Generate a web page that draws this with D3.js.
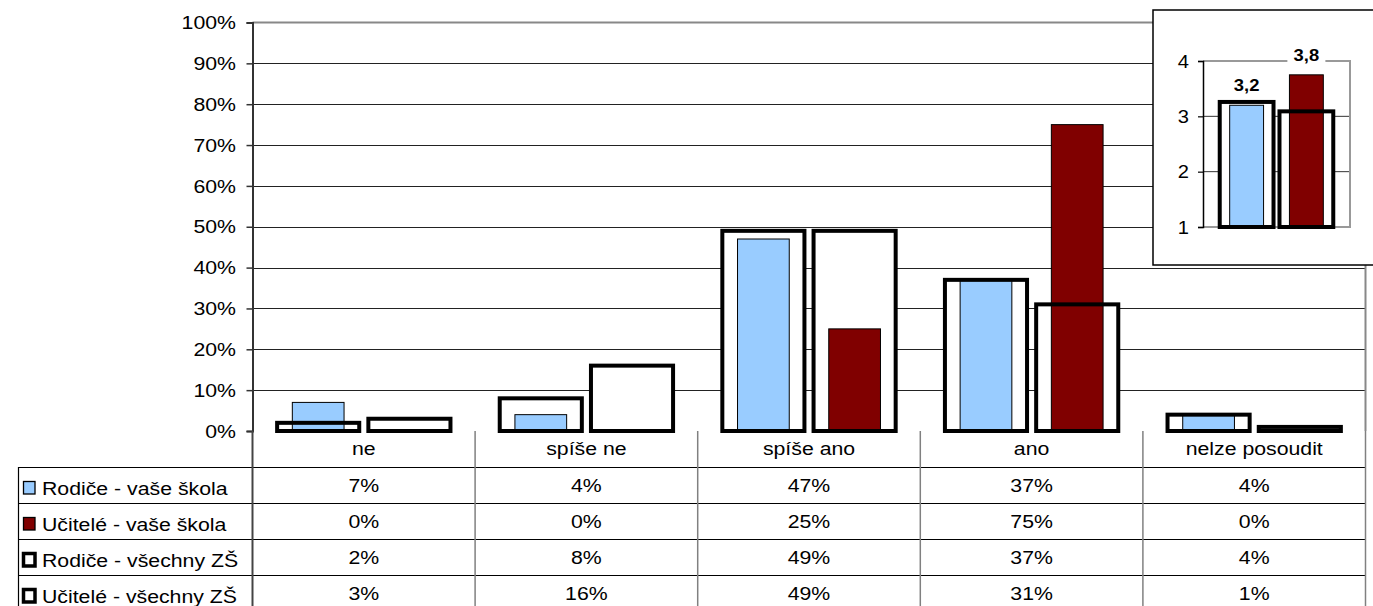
<!DOCTYPE html>
<html>
<head>
<meta charset="utf-8">
<script src="https://cdn.jsdelivr.net/npm/d3@7/dist/d3.min.js"></script>
<style>
  html, body { margin: 0; padding: 0; background: #fff; }
  svg { display: block; }
  text { font-family: "Liberation Sans", Arial, sans-serif; fill: #000; }
</style>
</head>
<body>
<svg id="chart" width="1373" height="606"></svg>
<script>
// ---- data ----
const categories = ["ne", "spíše ne", "spíše ano", "ano", "nelze posoudit"];
const seriesNames = ["Rodiče - vaše škola", "Učitelé - vaše škola", "Rodiče - všechny ZŠ", "Učitelé - všechny ZŠ"];
const rodiceVase = [7, 4, 47, 37, 4];
const uciteleVase = [0, 0, 25, 75, 0];
const rodiceVsechny = [2, 8, 49, 37, 4];
const uciteleVsechny = [3, 16, 49, 31, 1];
const yTicks = [0, 10, 20, 30, 40, 50, 60, 70, 80, 90, 100];
const insetVase = [3.2, 3.75];
const insetVsechny = [3.26, 3.09];
const insetLabels = ["3,2", "3,8"];
const insetTicks = [1, 2, 3, 4];

const colors = ["#99CCFF", "#800000"];
const SX = 1.15; // horizontal text stretch of the reference
const FS = 18.5;

const svg = d3.select("#chart");

function txt(g, x, y, s, anchor, size, weight) {
  return g.append("text")
    .attr("transform", `translate(${x},${y}) scale(${SX},1)`)
    .attr("text-anchor", anchor || "middle")
    .style("font-size", (size || FS) + "px")
    .style("font-weight", weight || "normal")
    .text(s);
}

// ---- main chart scales ----
const x = d3.scaleBand().domain(categories).range([252.5, 1365.5]);
const sub = d3.scaleBand().domain([0, 1]).range([0, x.bandwidth()]).paddingInner(0.1).paddingOuter(0.27);
const y = d3.scaleLinear().domain([0, 100]).range([431, 22.5]);
const narrowFrac = 0.63;

const main = svg.append("g");

// gridlines
main.selectAll("line.grid").data(yTicks.filter(t => t > 0 && t < 100)).join("line")
  .attr("x1", 252.5).attr("x2", 1365.5)
  .attr("y1", d => Math.round(y(d)) + 0.5).attr("y2", d => Math.round(y(d)) + 0.5)
  .attr("stroke", "#222").attr("stroke-width", 1);
// top & right border
main.append("line").attr("x1", 252.5).attr("x2", 1365.5).attr("y1", y(100)).attr("y2", y(100))
  .attr("stroke", "#888").attr("stroke-width", 2);
main.append("line").attr("x1", 1365.5).attr("x2", 1365.5).attr("y1", y(100)).attr("y2", y(0))
  .attr("stroke", "#888").attr("stroke-width", 2);

const wideSeries = [rodiceVsechny, uciteleVsechny];
const narrowSeries = [rodiceVase, uciteleVase];

function wideData() {
  const out = [];
  wideSeries.forEach((arr, si) => arr.forEach((v, ci) => out.push({ c: categories[ci], s: si, v })));
  return out;
}
function narrowData() {
  const out = [];
  narrowSeries.forEach((arr, si) => arr.forEach((v, ci) => { if (v > 0) out.push({ c: categories[ci], s: si, v }); }));
  return out;
}

// wide bars: white fill first
main.selectAll("rect.wfill").data(wideData()).join("rect")
  .attr("x", d => x(d.c) + sub(d.s)).attr("width", sub.bandwidth())
  .attr("y", d => y(d.v)).attr("height", d => y(0) - y(d.v))
  .attr("fill", "#fff");
// narrow bars
main.selectAll("rect.narrow").data(narrowData()).join("rect")
  .attr("x", d => x(d.c) + sub(d.s) + sub.bandwidth() * (1 - narrowFrac) / 2)
  .attr("width", sub.bandwidth() * narrowFrac)
  .attr("y", d => y(d.v)).attr("height", d => y(0) - y(d.v))
  .attr("fill", d => colors[d.s]).attr("stroke", "#000").attr("stroke-width", 1);
// wide bar outlines on top
main.selectAll("rect.wline").data(wideData()).join("rect")
  .attr("x", d => x(d.c) + sub(d.s)).attr("width", sub.bandwidth())
  .attr("y", d => y(d.v)).attr("height", d => y(0) - y(d.v))
  .attr("fill", "none").attr("stroke", "#000").attr("stroke-width", 4);

// y axis
const yAxis = main.append("g").attr("transform", "translate(252.5,0)")
  .call(d3.axisLeft(y).tickValues(yTicks).tickSize(6).tickFormat(""));
yAxis.select(".domain").attr("stroke", "#333").attr("stroke-width", 2);
yAxis.selectAll(".tick line").attr("stroke", "#333").attr("stroke-width", 1.5);
yTicks.forEach(t => txt(main, 236, y(t) + 6.6, t + "%", "end"));

// ---- data table ----
const tbl = svg.append("g");
const rowTop = [431, 467, 503, 539, 575];
// horizontal lines
tbl.selectAll("line.h").data(rowTop.slice(1)).join("line")
  .attr("x1", 18).attr("x2", 1365.5).attr("y1", d => d + 0.5).attr("y2", d => d + 0.5)
  .attr("stroke", "#000").attr("stroke-width", 1.2);
// vertical lines
const vx = categories.map(c => x(c)).concat([x.range()[1]]);
tbl.selectAll("line.v").data(vx).join("line")
  .attr("x1", d => d).attr("x2", d => d).attr("y1", 431).attr("y2", 606)
  .attr("stroke", (d, i) => i === 0 ? "#444" : "#808080").attr("stroke-width", (d, i) => i === 0 ? 2 : 1.5);
tbl.append("line").attr("x1", 18.5).attr("x2", 18.5).attr("y1", 467).attr("y2", 606)
  .attr("stroke", "#000").attr("stroke-width", 1.2);

// header
categories.forEach(c => txt(tbl, x(c) + x.bandwidth() / 2, 455, c));
// rows
const rows = [rodiceVase, uciteleVase, rodiceVsechny, uciteleVsechny];
rows.forEach((arr, ri) => {
  const top = rowTop[ri + 1];
  arr.forEach((v, ci) => txt(tbl, x(categories[ci]) + x.bandwidth() / 2, top + 25, v + "%"));
  // legend key
  const key = tbl.append("rect").attr("x", 23.5).attr("y", top + 14.5).attr("width", 11.5).attr("height", 12.5);
  if (ri < 2) key.attr("fill", colors[ri]).attr("stroke", "#000").attr("stroke-width", 1.3);
  else key.attr("fill", "#fff").attr("stroke", "#000").attr("stroke-width", 3.5);
  txt(tbl, 42, top + 27.5, seriesNames[ri], "start");
});

// ---- inset chart ----
const ins = svg.append("g");
ins.append("rect").attr("x", 1153).attr("y", 10).attr("width", 240).attr("height", 255)
  .attr("fill", "#fff").attr("stroke", "#000").attr("stroke-width", 1.5);
const iy = d3.scaleLinear().domain([1, 4]).range([227, 61]);
const ix = d3.scaleBand().domain([0, 1]).range([1203, 1350]).paddingInner(0.1).paddingOuter(0.28);

// grid + borders
ins.selectAll("line.ig").data(insetTicks.filter(t => t > 1 && t < 4)).join("line")
  .attr("x1", 1203).attr("x2", 1350).attr("y1", d => iy(d)).attr("y2", d => iy(d))
  .attr("stroke", "#333").attr("stroke-width", 1);
ins.append("path")
  .attr("d", `M1203,${iy(4)}H1350V${iy(1)}H1203`)
  .attr("fill", "none").attr("stroke", "#999").attr("stroke-width", 2);

// wide fill
ins.selectAll("rect.iwf").data(insetVsechny).join("rect")
  .attr("x", (d, i) => ix(i)).attr("width", ix.bandwidth())
  .attr("y", d => iy(d)).attr("height", d => iy(1) - iy(d)).attr("fill", "#fff");
// narrow
ins.selectAll("rect.inr").data(insetVase).join("rect")
  .attr("x", (d, i) => ix(i) + ix.bandwidth() * (1 - narrowFrac) / 2)
  .attr("width", ix.bandwidth() * narrowFrac)
  .attr("y", d => iy(d)).attr("height", d => iy(1) - iy(d))
  .attr("fill", (d, i) => colors[i]).attr("stroke", "#000").attr("stroke-width", 1);
// wide outline
ins.selectAll("rect.iwl").data(insetVsechny).join("rect")
  .attr("x", (d, i) => ix(i)).attr("width", ix.bandwidth())
  .attr("y", d => iy(d)).attr("height", d => iy(1) - iy(d))
  .attr("fill", "none").attr("stroke", "#000").attr("stroke-width", 4);

// inset axis
const iAxis = ins.append("g").attr("transform", "translate(1203,0)")
  .call(d3.axisLeft(iy).tickValues(insetTicks).tickSize(5).tickFormat(""));
iAxis.select(".domain").attr("stroke", "#000").attr("stroke-width", 1.5);
iAxis.selectAll(".tick line").attr("stroke", "#000").attr("stroke-width", 1.2);
insetTicks.forEach(t => txt(ins, 1189, iy(t) + 6.5, String(t), "end", 17.5));

// data labels
insetVase.forEach((v, i) => {
  const cx = ix(i) + ix.bandwidth() / 2;
  const by = iy(v) - 14;
  ins.append("rect").attr("x", cx - 19).attr("y", by - 14).attr("width", 38).attr("height", 18).attr("fill", "#fff");
  txt(ins, cx, by, insetLabels[i], "middle", 16, "bold");
});
</script>
</body>
</html>
